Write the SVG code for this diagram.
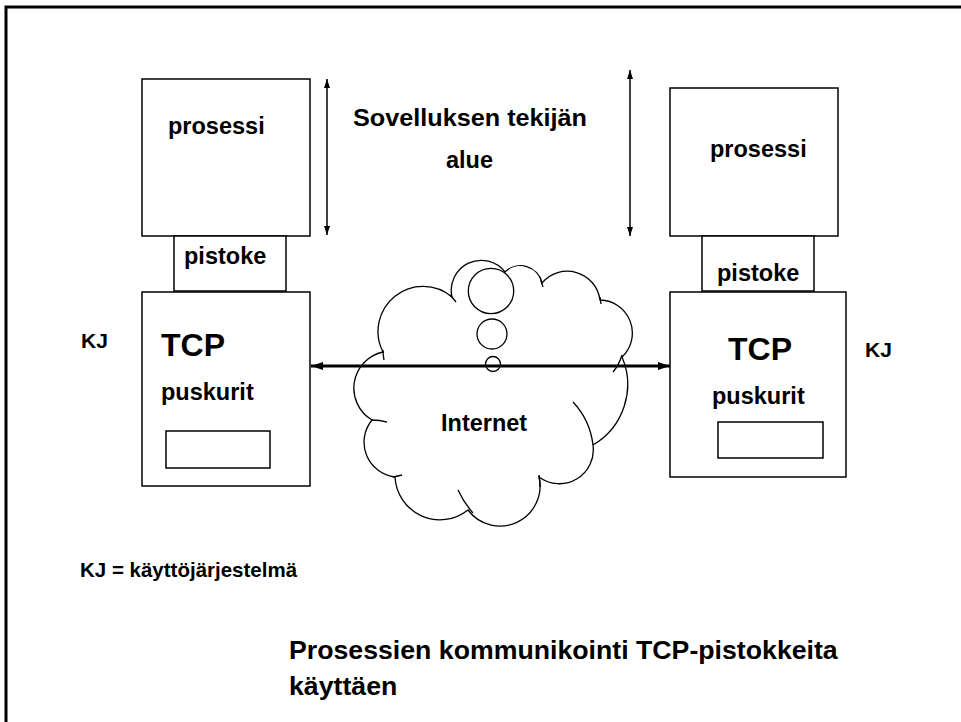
<svg xmlns="http://www.w3.org/2000/svg" width="961" height="722" viewBox="0 0 961 722">
<style>
text{font-family:"Liberation Sans",Arial,sans-serif;font-weight:bold;fill:#000}
.box{fill:#fff;stroke:#000;stroke-width:1.5}
.t{font-size:23.5px}
.big{font-size:32px}
.kj{font-size:21px}
.foot{font-size:20.5px}
.title{font-size:26.7px}
.line{fill:none;stroke:#000}
</style>
<defs>
<marker id="ah" markerUnits="userSpaceOnUse" markerWidth="10" markerHeight="10" refX="9" refY="4" orient="auto-start-reverse" viewBox="0 0 10 8">
<path d="M0,1 L9,4 L0,7 Z" fill="#000"/>
</marker>
<marker id="ahb" markerUnits="userSpaceOnUse" markerWidth="12" markerHeight="10" refX="12" refY="5" orient="auto-start-reverse" viewBox="0 0 12 10">
<path d="M0,1 L12,5 L0,9 Z" fill="#000"/>
</marker>
</defs>
<rect width="961" height="722" fill="#fff"/>
<path d="M6,722 V7 H961" fill="none" stroke="#000" stroke-width="3"/>

<g id="cloud">
<path class="line" stroke-width="1.3" fill="#fff" d="M383,352 A45,45 0 0 1 452,297 A30,30 0 0 1 505,272 A22,22 0 0 1 542,283 A33,33 0 0 1 600,300 A33,33 0 0 1 622,357 A70,70 0 0 1 593,445 A34,34 0 0 1 539,477 A40,40 0 0 1 468,510 A45,45 0 0 1 395,477 A35,35 0 0 1 372,420 A37,37 0 0 1 383,352 Z"/>
<path class="line" stroke-width="1.3" d="M450,295 Q453,298 456,302 M540,277 Q541,281 543,287 M600,297 L601,304 M622,355 Q619,365 613,372 M573,402 Q590,420 593,445 M539,475 Q540,481 540,487 M458,490 Q464,503 473,513 M393,477 Q398,476 402,475 M372,420 Q380,420 387,422 M383,350 Q383,355 384,360"/>
<circle class="line" stroke-width="1.3" fill="#fff" cx="491" cy="291" r="22.7"/>
<circle class="line" stroke-width="1.3" fill="#fff" cx="492" cy="334" r="15"/>
<circle class="line" stroke-width="1.3" fill="#fff" cx="493" cy="364" r="7.5"/>
<text class="t" x="441" y="431">Internet</text>
</g>

<g id="left-process">
<rect class="box" x="142" y="79" width="168" height="157"/>
<text class="t" x="168" y="134">prosessi</text>
</g>
<g id="left-socket">
<rect class="box" x="174" y="236" width="112" height="55"/>
<text class="t" x="184" y="264">pistoke</text>
</g>
<g id="left-tcp">
<rect class="box" x="142" y="292" width="168" height="194"/>
<text class="big" x="161" y="356">TCP</text>
<text class="t" x="161" y="400">puskurit</text>
<rect class="box" x="166" y="431" width="104" height="37"/>
</g>

<g id="right-process">
<rect class="box" x="670" y="88" width="168" height="148"/>
<text class="t" x="710" y="157">prosessi</text>
</g>
<g id="right-socket">
<rect class="box" x="702" y="236" width="112" height="55"/>
<text class="t" x="717" y="281">pistoke</text>
</g>
<g id="right-tcp">
<rect class="box" x="670" y="292" width="176" height="185"/>
<text class="big" x="728" y="360">TCP</text>
<text class="t" x="712" y="404">puskurit</text>
<rect class="box" x="718" y="422" width="105" height="36"/>
</g>

<g id="labels">
<text class="kj" x="81" y="348">KJ</text>
<text class="kj" x="865" y="357">KJ</text>
<text class="t" x="353" y="126" textLength="234" lengthAdjust="spacingAndGlyphs">Sovelluksen tekijän</text>
<text class="t" x="446" y="168">alue</text>
<text class="foot" x="80" y="577">KJ = käyttöjärjestelmä</text>
<text class="title" x="289" y="659">Prosessien kommunikointi TCP-pistokkeita</text>
<text class="title" x="289" y="695">käyttäen</text>
</g>

<g id="connectors">
<line class="line" stroke-width="1.5" x1="327" y1="79" x2="327" y2="235" marker-start="url(#ah)" marker-end="url(#ah)"/>
<line class="line" stroke-width="1.5" x1="630" y1="70" x2="630" y2="236" marker-start="url(#ah)" marker-end="url(#ah)"/>
<line class="line" stroke-width="3" x1="311" y1="366" x2="670" y2="366" marker-start="url(#ahb)" marker-end="url(#ahb)"/>
</g>
</svg>
